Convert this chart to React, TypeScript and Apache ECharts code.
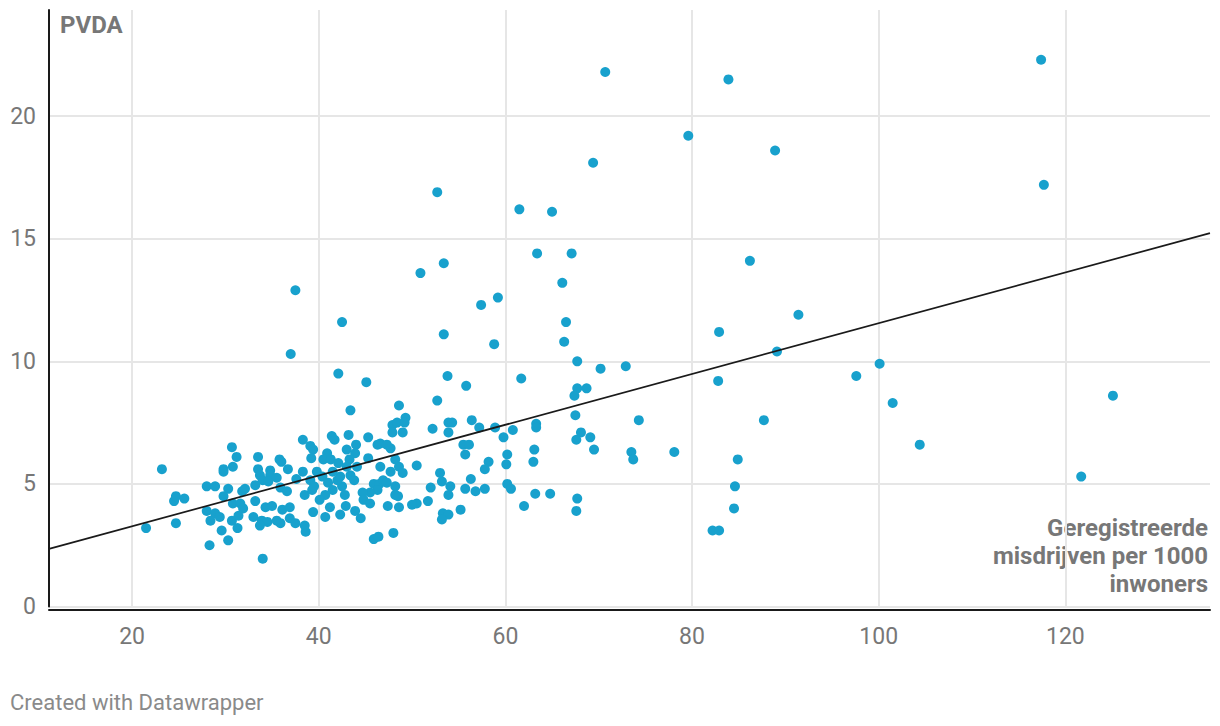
import React, { useEffect, useRef } from "react";
import * as echarts from "echarts";

// Geregistreerde misdrijven per 1000 inwoners (x) and PVDA score (y)
const misdrijven = [
  21.5, 23.2, 24.5, 24.7, 25.6, 24.7, 28.0, 28.9, 28.0, 28.9,
  28.4, 29.4, 29.6, 28.3, 30.3, 30.3, 29.8, 30.7, 31.2, 29.8,
  29.8, 30.8, 30.7, 31.4, 31.3, 30.8, 31.6, 31.9, 31.8, 32.1,
  33.2, 33.2, 33.0, 33.5, 33.5, 33.7, 34.0, 34.8, 34.8, 35.5,
  34.6, 35.9, 33.9, 34.5, 33.7, 34.3, 35.0, 35.5, 35.9, 34.0,
  35.8, 36.0, 36.7, 36.6, 36.1, 36.9, 36.9, 37.5, 37.6, 37.5, 37.0,
  45.1, 55.8, 52.7, 48.6, 43.4, 47.9, 48.4, 49.3, 49.2, 47.9,
  49.0, 52.2, 53.9, 54.3, 53.9, 56.4, 57.2, 38.3, 41.4, 41.7,
  43.2, 45.3, 44.0, 39.1, 39.4, 39.2, 40.9, 40.5, 41.3, 42.1,
  43.0, 43.9, 43.3, 44.1, 45.3, 46.3, 46.6, 47.3, 47.7, 48.2,
  48.6, 49.0, 47.7, 46.6, 45.9, 46.5, 46.9, 47.3, 48.2, 48.2,
  48.5, 47.4, 48.6, 46.3, 45.5, 44.7, 44.8, 45.5, 45.9, 46.4,
  48.0, 44.5, 43.9, 42.3, 42.9, 42.8, 42.5, 42.0, 42.3, 41.5,
  40.7, 40.7, 41.2, 40.1, 39.4, 38.5, 39.3, 38.6, 38.5, 38.3,
  39.1, 39.5, 39.8, 40.4, 41.0, 41.5, 43.0, 43.4, 43.8, 50.5,
  52.0, 53.0, 53.2, 54.1, 53.9, 51.7, 50.5, 50.0, 53.3, 53.9,
  53.2, 55.2,
  58.9, 60.8, 59.8, 63.3, 63.3, 68.1, 69.1, 67.6, 69.5, 60.2,
  63.1, 73.5, 73.7, 58.2, 57.8, 60.1, 63.0, 57.8, 60.2, 60.6,
  63.2, 64.8, 67.7, 62.0, 67.6, 55.7, 56.3, 56.8, 55.5, 56.1, 55.7,
  117.4, 117.7, 70.7, 83.9, 79.6, 88.9, 69.4, 52.7, 61.5, 65.0,
  67.1, 63.4, 86.2, 53.4, 50.9, 66.1, 59.2, 57.4, 91.4, 42.5,
  66.5, 82.9, 53.4, 66.3, 58.8, 89.1, 100.1, 67.7, 70.2, 72.9,
  42.1, 53.8, 61.7, 82.8, 97.6, 67.7, 68.7, 67.4, 125.1, 101.5,
  67.5, 87.7, 74.3, 104.4, 121.7, 82.2, 82.9, 84.6, 84.9, 84.5,
  78.1,
];

const pvdaScore = [
  3.2, 5.6, 4.3, 4.5, 4.4, 3.4, 4.9, 4.9, 3.9, 3.8,
  3.5, 3.65, 3.1, 2.5, 2.7, 4.8, 4.5, 6.5, 6.1, 5.6,
  5.5, 5.7, 3.5, 3.7, 3.2, 4.2, 4.2, 4.0, 4.7, 4.8,
  4.95, 4.3, 3.65, 6.1, 5.6, 5.35, 5.15, 5.55, 5.35, 5.25,
  5.1, 4.85, 3.5, 3.45, 3.3, 4.05, 4.1, 3.5, 3.4, 1.95,
  6.0, 5.9, 5.6, 4.7, 3.95, 4.05, 3.6, 3.4, 5.2, 12.9, 10.3,
  9.15, 9.0, 8.4, 8.2, 8.0, 7.4, 7.5, 7.7, 7.5, 7.1,
  7.1, 7.25, 7.5, 7.5, 7.1, 7.6, 7.3, 6.8, 6.95, 6.8,
  7.0, 6.9, 6.6, 6.55, 6.4, 6.05, 6.25, 6.0, 6.0, 5.85,
  6.4, 6.25, 6.0, 5.7, 6.05, 6.6, 6.65, 6.6, 6.45, 6.0,
  5.7, 5.45, 5.5, 5.7, 5.0, 5.0, 5.15, 5.05, 4.9, 4.55,
  4.5, 4.1, 4.05, 4.75, 4.65, 4.65, 4.35, 4.2, 2.75, 2.85,
  3.0, 3.6, 3.9, 3.75, 4.1, 4.55, 4.9, 5.15, 5.3, 4.75,
  4.55, 3.65, 4.05, 4.35, 3.85, 4.55, 4.75, 3.05, 3.3, 5.5,
  5.15, 4.9, 5.5, 5.3, 5.05, 5.5, 5.7, 5.35, 5.15, 5.75,
  4.85, 5.45, 5.1, 4.9, 4.55, 4.3, 4.2, 4.15, 3.8, 3.75,
  3.55, 3.95,
  7.3, 7.2, 6.9, 7.45, 7.3, 7.1, 6.9, 6.8, 6.4, 6.2,
  6.4, 6.3, 6.0, 5.9, 5.6, 5.8, 5.9, 4.8, 5.0, 4.8,
  4.6, 4.6, 4.4, 4.1, 3.9, 4.8, 5.2, 4.7, 6.6, 6.6, 6.2,
  22.3, 17.2, 21.8, 21.5, 19.2, 18.6, 18.1, 16.9, 16.2, 16.1,
  14.4, 14.4, 14.1, 14.0, 13.6, 13.2, 12.6, 12.3, 11.9, 11.6,
  11.6, 11.2, 11.1, 10.8, 10.7, 10.4, 9.9, 10.0, 9.7, 9.8,
  9.5, 9.4, 9.3, 9.2, 9.4, 8.9, 8.9, 8.6, 8.6, 8.3,
  7.8, 7.6, 7.6, 6.6, 5.3, 3.1, 3.1, 4.9, 6.0, 4.0,
  6.3,
];

// Trend line end points
const trendX = [11.1, 135.5];
const trendY = [2.35, 15.23];

const xRange = [11.1, 135.5];
const yRange = [0, 24.33];

const yTitle = "PVDA";
const xTitle = "Geregistreerde\nmisdrijven per 1000\ninwoners";
const credit = "Created with Datawrapper";

export default function App() {
  const ref = useRef<HTMLDivElement>(null);

  useEffect(() => {
    document.body.style.margin = "0";
    if (!ref.current) return;
    const chart = echarts.init(ref.current, null, { renderer: "svg" });
    const points = misdrijven.map((x, i) => [x, pvdaScore[i]]);
    const trend = trendX.map((x, i) => [x, trendY[i]]);
    const gridColor = "#e6e6e6";
    const axisColor = "#1a1a1a";
    const font = "Roboto, sans-serif";

    chart.setOption({
      animation: false,
      textStyle: { fontFamily: font },
      grid: { left: 49, right: 10, top: 10, bottom: 119.5, containLabel: false },
      xAxis: {
        type: "value",
        min: xRange[0],
        max: xRange[1],
        splitNumber: 6,
        offset: 3,
        axisLine: { show: true, onZero: false, lineStyle: { color: axisColor, width: 2 } },
        axisTick: { show: false },
        axisLabel: {
          color: "#777",
          fontSize: 23,
          fontFamily: font,
          margin: 15,
          showMinLabel: false,
          showMaxLabel: false,
        },
        splitLine: {
          show: true,
          showMinLine: false,
          showMaxLine: false,
          lineStyle: { color: gridColor, width: 2 },
        },
      },
      yAxis: {
        type: "value",
        min: yRange[0],
        max: yRange[1],
        interval: 5,
        axisLine: { show: true, lineStyle: { color: axisColor, width: 2 } },
        axisTick: { show: false },
        axisLabel: {
          color: "#777",
          fontSize: 23,
          fontFamily: font,
          margin: 13,
          showMaxLabel: false,
        },
        splitLine: {
          show: true,
          showMaxLine: false,
          lineStyle: { color: gridColor, width: 2 },
        },
      },
      series: [
        {
          type: "scatter",
          data: points,
          symbol: "circle",
          symbolSize: 10,
          itemStyle: { color: "#18a1cd", opacity: 1 },
          z: 2,
        },
        {
          type: "line",
          data: trend,
          symbol: "none",
          silent: true,
          lineStyle: { color: "#1a1a1a", width: 1.7 },
          z: 3,
        },
      ],
      graphic: [
        {
          type: "text",
          x: 60,
          y: 24.5,
          style: {
            text: yTitle,
            fill: "#777",
            fontSize: 24,
            fontWeight: "bold",
            fontFamily: font,
            align: "left",
            verticalAlign: "middle",
          },
        },
        {
          type: "text",
          x: 1208,
          y: 514,
          style: {
            text: xTitle,
            fill: "#777",
            fontSize: 24,
            fontWeight: "bold",
            fontFamily: font,
            align: "right",
            verticalAlign: "top",
            lineHeight: 28,
          },
        },
        {
          type: "text",
          x: 10,
          y: 702,
          style: {
            text: credit,
            fill: "#8a8a8a",
            fontSize: 22,
            fontFamily: font,
            align: "left",
            verticalAlign: "middle",
          },
        },
      ],
    });
    return () => chart.dispose();
  }, []);

  return <div ref={ref} style={{ width: 1220, height: 726 }} />;
}
